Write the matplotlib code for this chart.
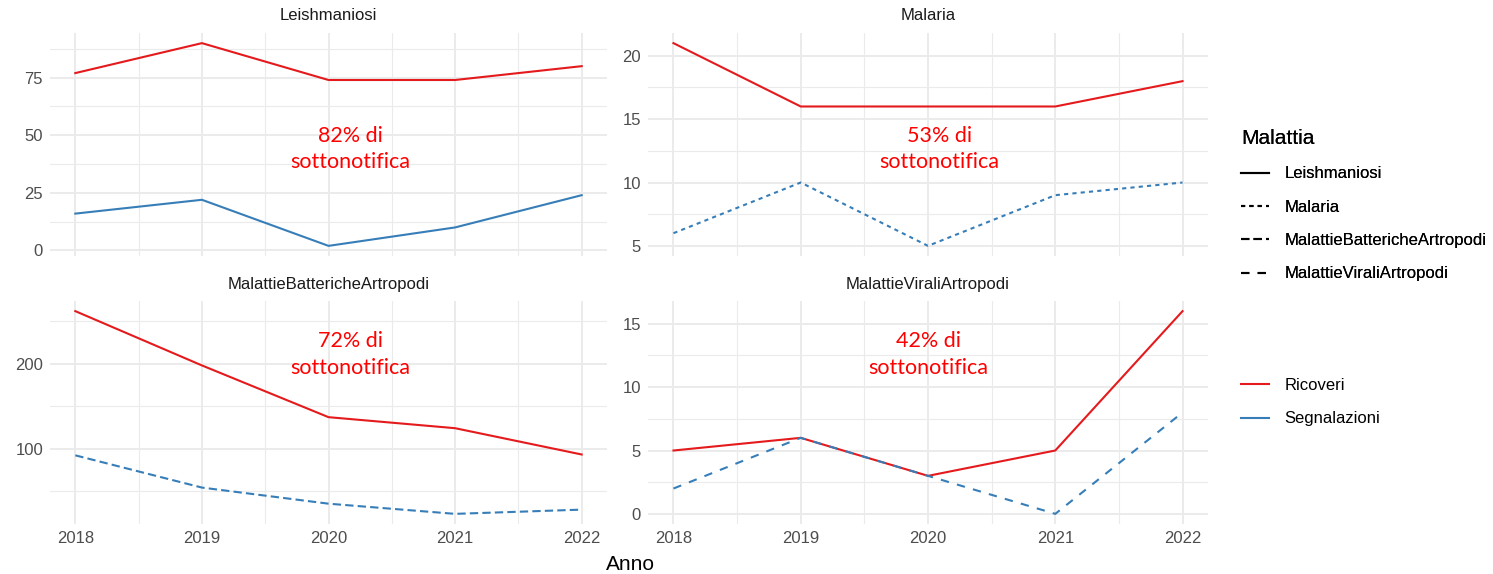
import matplotlib
matplotlib.use("Agg")
import matplotlib.pyplot as plt
from matplotlib.lines import Line2D
from matplotlib.ticker import FixedLocator

plt.rcParams["font.family"] = ["Liberation Sans", "DejaVu Sans"]

years = [2018, 2019, 2020, 2021, 2022]
malattie = ["Leishmaniosi", "Malaria", "MalattieBattericheArtropodi", "MalattieViraliArtropodi"]

# ricoveri (hospital admissions) and segnalazioni (notifications) per year
ricoveri = {
    "Leishmaniosi": [77, 90, 74, 74, 80],
    "Malaria": [21, 16, 16, 16, 18],
    "MalattieBattericheArtropodi": [262, 198, 137, 124, 93],
    "MalattieViraliArtropodi": [5, 6, 3, 5, 16],
}
segnalazioni = {
    "Leishmaniosi": [16, 22, 2, 10, 24],
    "Malaria": [6, 10, 5, 9, 10],
    "MalattieBattericheArtropodi": [92, 54, 35, 23, 28],
    "MalattieViraliArtropodi": [2, 6, 3, 0, 8],
}
sottonotifica = {
    "Leishmaniosi": "82%",
    "Malaria": "53%",
    "MalattieBattericheArtropodi": "72%",
    "MalattieViraliArtropodi": "42%",
}

y_major = {
    "Leishmaniosi": [0, 25, 50, 75],
    "Malaria": [5, 10, 15, 20],
    "MalattieBattericheArtropodi": [100, 200],
    "MalattieViraliArtropodi": [0, 5, 10, 15],
}
y_minor = {
    "Leishmaniosi": [12.5, 37.5, 62.5, 87.5],
    "Malaria": [7.5, 12.5, 17.5],
    "MalattieBattericheArtropodi": [50, 150, 250],
    "MalattieViraliArtropodi": [2.5, 7.5, 12.5],
}

# ggplot-ish linetypes: solid, "22", "42", "44" (only on the segnalazioni line)
linestyles = {
    "Leishmaniosi": "-",
    "Malaria": (0, (2, 2)),
    "MalattieBattericheArtropodi": (0, (4, 2)),
    "MalattieViraliArtropodi": (0, (4, 4)),
}
RED = "#E41A1C"
BLUE = "#377EB8"
GRID = "#EBEBEB"

W, H = 1493, 574
fig = plt.figure(figsize=(W / 100, H / 100), dpi=100)

# panel boxes in pixels: left, right, top, bottom
boxes = [
    (50, 607, 33, 256),
    (648, 1208, 33, 256),
    (50, 607, 301, 524),
    (648, 1208, 301, 524),
]
text_pos = [(0.54, 0.48), (0.52, 0.48), (0.54, 0.76), (0.50, 0.76)]

for i, (m, (l, r, t, b)) in enumerate(zip(malattie, boxes)):
    ax = fig.add_axes([l / W, 1 - b / H, (r - l) / W, (b - t) / H])
    ax.plot(years, ricoveri[m], color=RED, lw=1.5)
    ax.plot(years, segnalazioni[m], color=BLUE, lw=1.5, ls=linestyles[m])

    ax.set_xlim(2017.8, 2022.2)
    ax.xaxis.set_major_locator(FixedLocator(years))
    ax.xaxis.set_minor_locator(FixedLocator([2018.5, 2019.5, 2020.5, 2021.5]))
    ax.yaxis.set_major_locator(FixedLocator(y_major[m]))
    ax.yaxis.set_minor_locator(FixedLocator(y_minor[m]))
    ax.grid(which="major", color=GRID, lw=1.4)
    ax.grid(which="minor", color=GRID, lw=0.8)
    ax.set_axisbelow(True)
    for s in ax.spines.values():
        s.set_visible(False)
    ax.tick_params(which="both", length=0, labelsize=12, labelcolor="#4D4D4D", pad=5)
    if i < 2:
        ax.tick_params(axis="x", labelbottom=False)
    ax.set_title(m, fontsize=12, color="#1A1A1A", pad=9)

    tx, ty = text_pos[i]
    ax.text(tx, ty, f"{sottonotifica[m]} di\nsottonotifica", transform=ax.transAxes,
            ha="center", va="center", color="#FF0000", fontsize=15.5,
            family="Lato", linespacing=1.4)

fig.text(630 / W, 1 - 565 / H, "Anno", ha="center", va="center", fontsize=15)

# legend: linetype by disease, colour by source
lt_handles = [Line2D([], [], color="black", lw=1.5, ls=linestyles[m]) for m in malattie]
leg1 = fig.legend(lt_handles, malattie, title="Malattia", loc="upper left",
                  bbox_to_anchor=(1226 / W, 1 - 114 / H), frameon=False,
                  fontsize=12, title_fontsize=15, handlelength=1.7,
                  handletextpad=0.9, labelspacing=1.1, alignment="left")
fig.add_artist(leg1)
col_handles = [Line2D([], [], color=RED, lw=1.5), Line2D([], [], color=BLUE, lw=1.5)]
fig.legend(col_handles, ["Ricoveri", "Segnalazioni"], loc="upper left",
           bbox_to_anchor=(1226 / W, 1 - 363 / H), frameon=False,
           fontsize=12, handlelength=1.7, handletextpad=0.9, labelspacing=1.1)

fig.savefig("out.png", dpi=100, facecolor="white")
